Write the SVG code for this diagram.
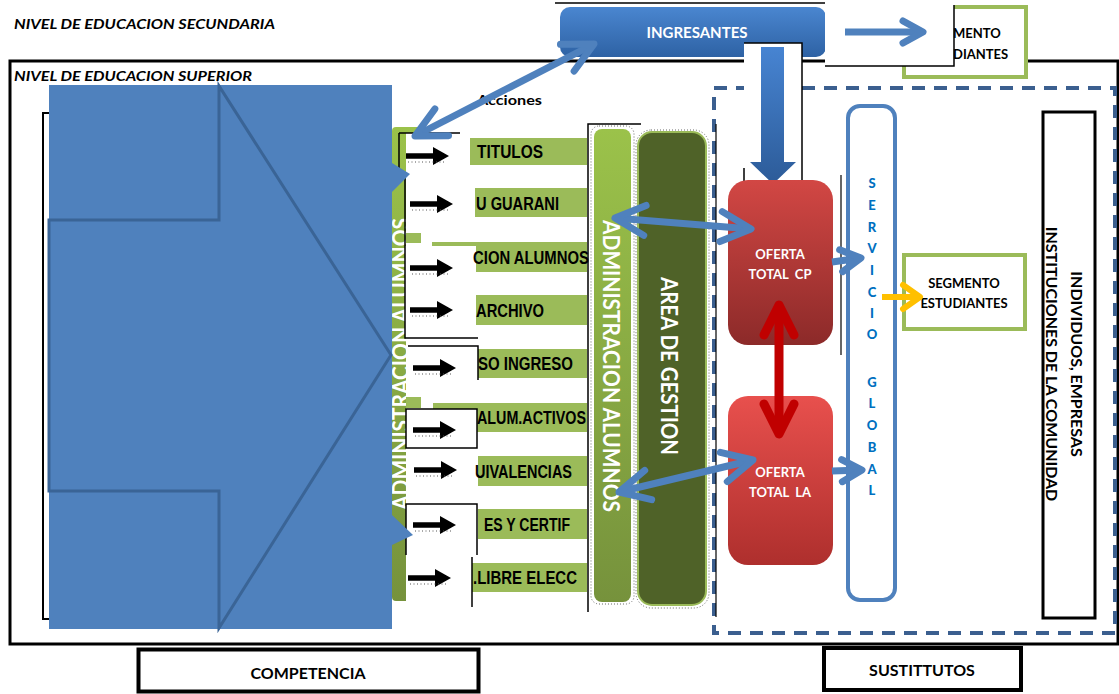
<svg xmlns="http://www.w3.org/2000/svg" width="1119" height="694" viewBox="0 0 1119 694">
<style>
.t{font-family:Lato,"Open Sans","Liberation Sans",sans-serif;font-weight:bold}
.row{font-family:"Liberation Sans Narrow","Liberation Sans",Arial,sans-serif;font-weight:bold;font-size:18px;fill:#000}
.w{fill:#fff}
.bar{fill:#9BBB59}
.wb{fill:#fff}
.bl{fill:none;stroke:#000;stroke-width:1.5}
.svc{font-family:Lato,"Open Sans","Liberation Sans",sans-serif;font-weight:900;font-size:13px;fill:#0070C0;text-anchor:middle}
.con{fill:none;stroke:#4F81BD;stroke-width:7}
</style>
<defs>
<linearGradient id="gIng" x1="0" y1="0" x2="0" y2="1"><stop offset="0" stop-color="#4A86D0"/><stop offset="1" stop-color="#2E62A4"/></linearGradient>
<linearGradient id="gDown" x1="0" y1="0" x2="0" y2="1"><stop offset="0" stop-color="#4784D2"/><stop offset="1" stop-color="#2C5B98"/></linearGradient>
<linearGradient id="gCP" x1="0" y1="0" x2="0" y2="1"><stop offset="0" stop-color="#D24744"/><stop offset="1" stop-color="#8C2A29"/></linearGradient>
<linearGradient id="gLA" x1="0" y1="0" x2="0" y2="1"><stop offset="0" stop-color="#E8504D"/><stop offset="1" stop-color="#AE2F2D"/></linearGradient>
<linearGradient id="gGreen" x1="0" y1="0" x2="0" y2="1"><stop offset="0" stop-color="#9BC24A"/><stop offset="1" stop-color="#76923C"/></linearGradient>
<g id="ka">
<path d="M0,-2.8 H27 V-9 L43,0 L27,9 V2.8 H0 Z" fill="#000"/>
<line x1="2" y1="6" x2="40" y2="6" stroke="#555" stroke-width="1" stroke-dasharray="1 2.5"/>
</g>
<marker id="mBig" markerUnits="userSpaceOnUse" markerWidth="90" markerHeight="90" viewBox="-45 -45 90 90" refX="0" refY="0" orient="auto-start-reverse"><path d="M-30,-15 L0,0 L-30,15" fill="none" stroke="#4F81BD" stroke-width="7" stroke-linecap="round" stroke-linejoin="round"/></marker>
<marker id="mSm" markerUnits="userSpaceOnUse" markerWidth="60" markerHeight="60" viewBox="-30 -30 60 60" refX="0" refY="0" orient="auto-start-reverse"><path d="M-20,-11 L0,0 L-20,11" fill="none" stroke="#4F81BD" stroke-width="7" stroke-linecap="round" stroke-linejoin="round"/></marker>
<marker id="mRed" markerUnits="userSpaceOnUse" markerWidth="90" markerHeight="90" viewBox="-45 -45 90 90" refX="0" refY="0" orient="auto-start-reverse"><path d="M-30,-15 L0,0 L-30,15" fill="none" stroke="#C00000" stroke-width="9" stroke-linecap="round" stroke-linejoin="round"/></marker>
<marker id="mYel" markerUnits="userSpaceOnUse" markerWidth="60" markerHeight="60" viewBox="-30 -30 60 60" refX="0" refY="0" orient="auto"><path d="M-17,-12 L0,0 L-17,12" fill="none" stroke="#FFC000" stroke-width="6" stroke-linecap="round" stroke-linejoin="round"/></marker>
</defs>
<rect x="0" y="0" width="1119" height="694" fill="#fff"/>

<text class="t" x="14" y="29" font-size="14" font-style="italic" textLength="261" lengthAdjust="spacingAndGlyphs">NIVEL DE EDUCACION SECUNDARIA</text>

<g id="superior">
<rect x="10" y="61" width="1108" height="583" fill="none" stroke="#000" stroke-width="3"/>
<text class="t" x="14" y="81" font-size="14" font-style="italic" textLength="238" lengthAdjust="spacingAndGlyphs">NIVEL DE EDUCACION SUPERIOR</text>
</g>

<g id="competencia-frame">
<rect x="43" y="113" width="60" height="506" fill="none" stroke="#000" stroke-width="2"/>
</g>

<g id="admin-left">
<rect x="392" y="127" width="30" height="474" rx="4" fill="url(#gGreen)"/>
<text class="t w" transform="translate(409,364) rotate(-90)" font-size="22" text-anchor="middle" textLength="292" lengthAdjust="spacingAndGlyphs">ADMINISTRACION ALUMNOS</text>
<rect x="406" y="133" width="70" height="472" fill="#fff"/>
<rect x="406" y="233" width="15" height="10" class="bar"/>
<rect x="406" y="397" width="15" height="11" class="bar"/>
</g>

<text class="t" x="477" y="105" font-size="14" textLength="65" lengthAdjust="spacingAndGlyphs">Acciones</text>

<g id="acciones">
<rect x="470" y="138" width="117" height="27" class="bar"/>
<rect x="475" y="188" width="112" height="29" class="bar"/>
<rect x="432" y="242" width="155" height="30" class="bar"/>
<rect x="475" y="295" width="112" height="30" class="bar"/>
<rect x="478" y="349" width="109" height="29" class="bar"/>
<rect x="433" y="403" width="154" height="29" class="bar"/>
<rect x="478" y="456" width="109" height="30" class="bar"/>
<rect x="478" y="509" width="109" height="30" class="bar"/>
<rect x="472" y="563" width="115" height="29" class="bar"/>

<rect x="405" y="246" width="71" height="92" class="wb"/>
<rect x="406" y="409" width="71" height="39" fill="#fff" stroke="#000" stroke-width="1.5"/>

<path class="bl" d="M399,133 H460 M399,133 V175 M405,177 V338 H478"/>
<path class="bl" d="M408,346 H478 V380"/>
<path class="bl" d="M406,555 V504 H477 V555"/>
<path class="bl" d="M472,557 V607"/>

<text class="row" x="477" y="158" textLength="66" lengthAdjust="spacingAndGlyphs">TITULOS</text>
<text class="row" x="476" y="210" textLength="83" lengthAdjust="spacingAndGlyphs">U GUARANI</text>
<text class="row" x="473" y="264" textLength="116" lengthAdjust="spacingAndGlyphs">CION ALUMNOS</text>
<text class="row" x="476" y="317" textLength="68" lengthAdjust="spacingAndGlyphs">ARCHIVO</text>
<text class="row" x="478" y="370" textLength="95" lengthAdjust="spacingAndGlyphs">SO INGRESO</text>
<text class="row" x="477" y="424" textLength="109" lengthAdjust="spacingAndGlyphs">ALUM.ACTIVOS</text>
<text class="row" x="475" y="478" textLength="97" lengthAdjust="spacingAndGlyphs">UIVALENCIAS</text>
<text class="row" x="484" y="531" textLength="86" lengthAdjust="spacingAndGlyphs">ES Y CERTIF</text>
<text class="row" x="473" y="584" textLength="104" lengthAdjust="spacingAndGlyphs">.LIBRE ELECC</text>

<use href="#ka" x="406" y="156"/>
<use href="#ka" x="410" y="204"/>
<use href="#ka" x="410" y="268"/>
<use href="#ka" x="410" y="310"/>
<use href="#ka" x="413" y="368"/>
<use href="#ka" x="413" y="430"/>
<use href="#ka" x="414" y="470"/>
<use href="#ka" x="413" y="525"/>
<use href="#ka" x="408" y="578"/>
</g>

<g id="competencia-arrow">
<rect x="49" y="85" width="343" height="544" fill="#4F81BD"/>
<path d="M49,220 H219 V86 L391,355 L219,628 V491 H49 Z" fill="none" stroke="#3A6496" stroke-width="3"/>
<polygon points="392,163 410,174 392,192" fill="#4F81BD"/>
<polygon points="392,515 413,535 392,545" fill="#4F81BD"/>
</g>

<g id="admin-right">
<path d="M641,124 H588 V612" fill="none" stroke="#000" stroke-width="1.5"/>
<rect x="591" y="126" width="43" height="478" rx="8" fill="none" stroke="#666" stroke-width="1" stroke-dasharray="1 2"/>
<rect x="594" y="129" width="37" height="473" rx="8" fill="url(#gGreen)"/>
<text class="t w" transform="translate(603,366) rotate(90)" font-size="22" text-anchor="middle" textLength="292" lengthAdjust="spacingAndGlyphs">ADMINISTRACION ALUMNOS</text>
</g>

<g id="area-gestion">
<rect x="636" y="130" width="73" height="478" rx="15" fill="none" stroke="#666" stroke-width="1" stroke-dasharray="1 2"/>
<rect x="638" y="132" width="68" height="473" rx="14" fill="#4F6228" stroke="#9BBB59" stroke-width="2"/>
<text class="t w" transform="translate(661,366) rotate(90)" font-size="22" text-anchor="middle" textLength="178" lengthAdjust="spacingAndGlyphs">AREA DE GESTION</text>
</g>

<g id="sustitutos-frame">
<rect x="714" y="88" width="401" height="545" fill="none" stroke="#3B5F8F" stroke-width="4" stroke-dasharray="13 9"/>
<line x1="716" y1="124" x2="716" y2="617" stroke="#000" stroke-width="1.2"/>
</g>

<g id="ingresantes">
<path d="M555,3 H842 V18" fill="none" stroke="#000" stroke-width="1.5"/>
<rect x="560" y="7" width="266" height="50" rx="10" fill="url(#gIng)"/>
<text class="t w" x="697" y="38" font-size="15" text-anchor="middle">INGRESANTES</text>
</g>

<g id="segmento-top">
<rect x="904" y="7" width="122" height="70" fill="#fff" stroke="#9BBB59" stroke-width="4"/>
<rect x="825" y="0" width="129" height="66" fill="#fff"/>
<path d="M825,66 H954 V5" fill="none" stroke="#000" stroke-width="1.5"/>
<text class="t" x="953" y="38" font-size="13">MENTO</text>
<text class="t" x="953" y="59" font-size="13">DIANTES</text>
</g>

<g id="down-arrow">
<rect x="744" y="43" width="58" height="153" fill="#fff"/>
<path d="M744,43 H802 V196 H744 V168" fill="none" stroke="#000" stroke-width="1.5"/>
<polygon points="761,47 784,47 784,162 796,162 773,184 750,162 761,162" fill="url(#gDown)"/>
</g>

<g id="oferta-cp">
<line x1="841" y1="175" x2="841" y2="355" stroke="#000" stroke-width="1.2"/>
<rect x="728" y="180" width="105" height="165" rx="20" fill="url(#gCP)"/>
<text class="t w" x="780" y="259" font-size="13" text-anchor="middle">OFERTA</text>
<text class="t w" x="780" y="279" font-size="13" text-anchor="middle" xml:space="preserve">TOTAL  CP</text>
</g>

<g id="oferta-la">
<rect x="728" y="396" width="105" height="169" rx="20" fill="url(#gLA)"/>
<text class="t w" x="780" y="477" font-size="13" text-anchor="middle">OFERTA</text>
<text class="t w" x="780" y="497" font-size="13" text-anchor="middle" xml:space="preserve">TOTAL  LA</text>
</g>

<g id="servicio-global">
<rect x="848" y="106" width="47" height="494" rx="12" fill="none" stroke="#4F81BD" stroke-width="4"/>
<text class="svc" x="872" y="188">S</text>
<text class="svc" x="872" y="210">E</text>
<text class="svc" x="872" y="232">R</text>
<text class="svc" x="872" y="253">V</text>
<text class="svc" x="872" y="275">I</text>
<text class="svc" x="872" y="297">C</text>
<text class="svc" x="872" y="318">I</text>
<text class="svc" x="872" y="339">O</text>
<text class="svc" x="872" y="387">G</text>
<text class="svc" x="872" y="408">L</text>
<text class="svc" x="872" y="430">O</text>
<text class="svc" x="872" y="452">B</text>
<text class="svc" x="872" y="474">A</text>
<text class="svc" x="872" y="495">L</text>
</g>

<g id="segmento-estudiantes">
<rect x="904" y="255" width="121" height="74" fill="#fff" stroke="#9BBB59" stroke-width="4"/>
<text class="t" x="964" y="288" font-size="13" text-anchor="middle">SEGMENTO</text>
<text class="t" x="964" y="308" font-size="13" text-anchor="middle">ESTUDIANTES</text>
</g>

<g id="comunidad">
<rect x="1043" y="112" width="52" height="506" fill="#fff" stroke="#000" stroke-width="3"/>
<text class="t" transform="translate(1071,364) rotate(90)" font-size="16" text-anchor="middle">INDIVIDUOS, EMPRESAS</text>
<text class="t" transform="translate(1046,364) rotate(90)" font-size="16" text-anchor="middle">INSTITUCIONES DE LA COMUNIDAD</text>
</g>

<g id="competencia">
<rect x="138.5" y="649.5" width="340" height="42" fill="#fff" stroke="#000" stroke-width="4"/>
<text class="t" x="308" y="679" font-size="16" text-anchor="middle">COMPETENCIA</text>
</g>

<g id="sustitutos">
<rect x="824" y="648" width="197" height="42" fill="#fff" stroke="#000" stroke-width="4"/>
<text class="t" x="922" y="676" font-size="16" text-anchor="middle">SUSTITTUTOS</text>
</g>

<g id="connectors">
<line class="con" x1="594" y1="44" x2="415" y2="136" marker-start="url(#mBig)" marker-end="url(#mBig)"/>
<line class="con" x1="615" y1="218" x2="751" y2="229" marker-start="url(#mBig)" marker-end="url(#mBig)"/>
<line class="con" x1="619" y1="492" x2="753" y2="460" marker-start="url(#mBig)" marker-end="url(#mBig)"/>
<line x1="779" y1="305" x2="779" y2="434" fill="none" stroke="#C00000" stroke-width="9" marker-start="url(#mRed)" marker-end="url(#mRed)"/>
<line class="con" x1="832" y1="262" x2="861" y2="258" marker-end="url(#mSm)"/>
<line class="con" x1="832" y1="471" x2="862" y2="470" marker-end="url(#mSm)"/>
<line class="con" x1="845" y1="32" x2="923" y2="32" marker-end="url(#mSm)"/>
<line x1="882" y1="297" x2="920" y2="297" stroke="#FFC000" stroke-width="6" marker-end="url(#mYel)"/>
</g>
</svg>
